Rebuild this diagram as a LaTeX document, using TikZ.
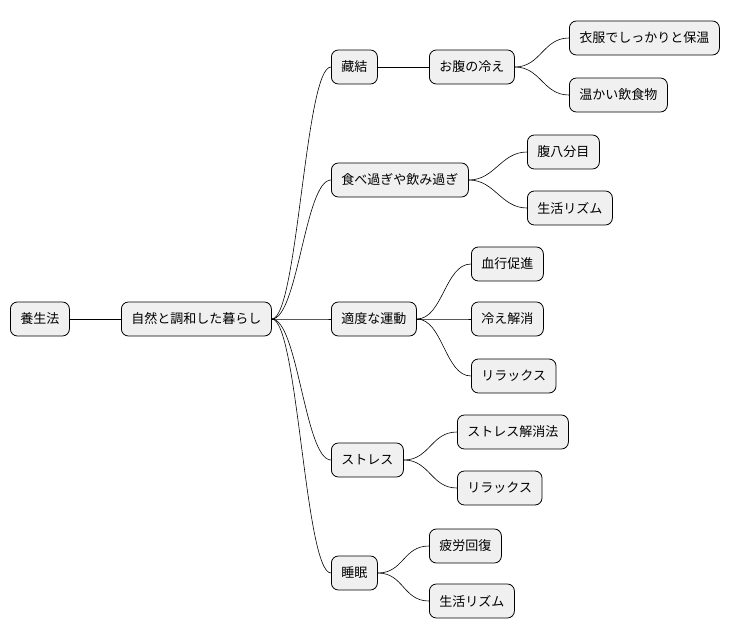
\documentclass[tikz,border=0pt]{standalone}
\usepackage{fontspec}
\setmainfont{Noto Sans CJK JP}
\begin{document}
\begin{tikzpicture}[x=1pt,y=-1pt,
  box/.style={draw=black,fill=black!6,rounded corners=7pt,minimum height=34pt,inner xsep=10pt,anchor=west,font=\fontsize{13}{15}\selectfont,line width=0.8pt},
  link/.style={draw=black,line width=0.6pt}]
\useasboundingbox (0,0) rectangle (740,640);
\node[box] (r) at (10,319) {養生法};
\node[box] (n) at (121,319) {自然と調和した暮らし};
\node[box] (a) at (331,67) {藏結};
\node[box] (a1) at (429,67) {お腹の冷え};
\node[box] (a11) at (569,38) {衣服でしっかりと保温};
\node[box] (a12) at (569,95) {温かい飲食物};
\node[box] (b) at (331,180) {食べ過ぎや飲み過ぎ};
\node[box] (b1) at (527,152) {腹八分目};
\node[box] (b2) at (527,208) {生活リズム};
\node[box] (c) at (331,319) {適度な運動};
\node[box] (c1) at (471,264) {血行促進};
\node[box] (c2) at (471,319) {冷え解消};
\node[box] (c3) at (471,376) {リラックス};
\node[box] (d) at (331,460) {ストレス};
\node[box] (d1) at (457,432) {ストレス解消法};
\node[box] (d2) at (457,488) {リラックス};
\node[box] (e) at (331,573) {睡眠};
\node[box] (e1) at (429,546) {疲労回復};
\node[box] (e2) at (429,601) {生活リズム};
\foreach \p/\c in {r/n,n/a,n/b,n/c,n/d,n/e,a/a1,a1/a11,a1/a12,b/b1,b/b2,c/c1,c/c2,c/c3,d/d1,d/d2,e/e1,e/e2}
  \draw[link] (\p.east) .. controls +(26,0) and +(-26,0) .. (\c.west);
\end{tikzpicture}
\end{document}
